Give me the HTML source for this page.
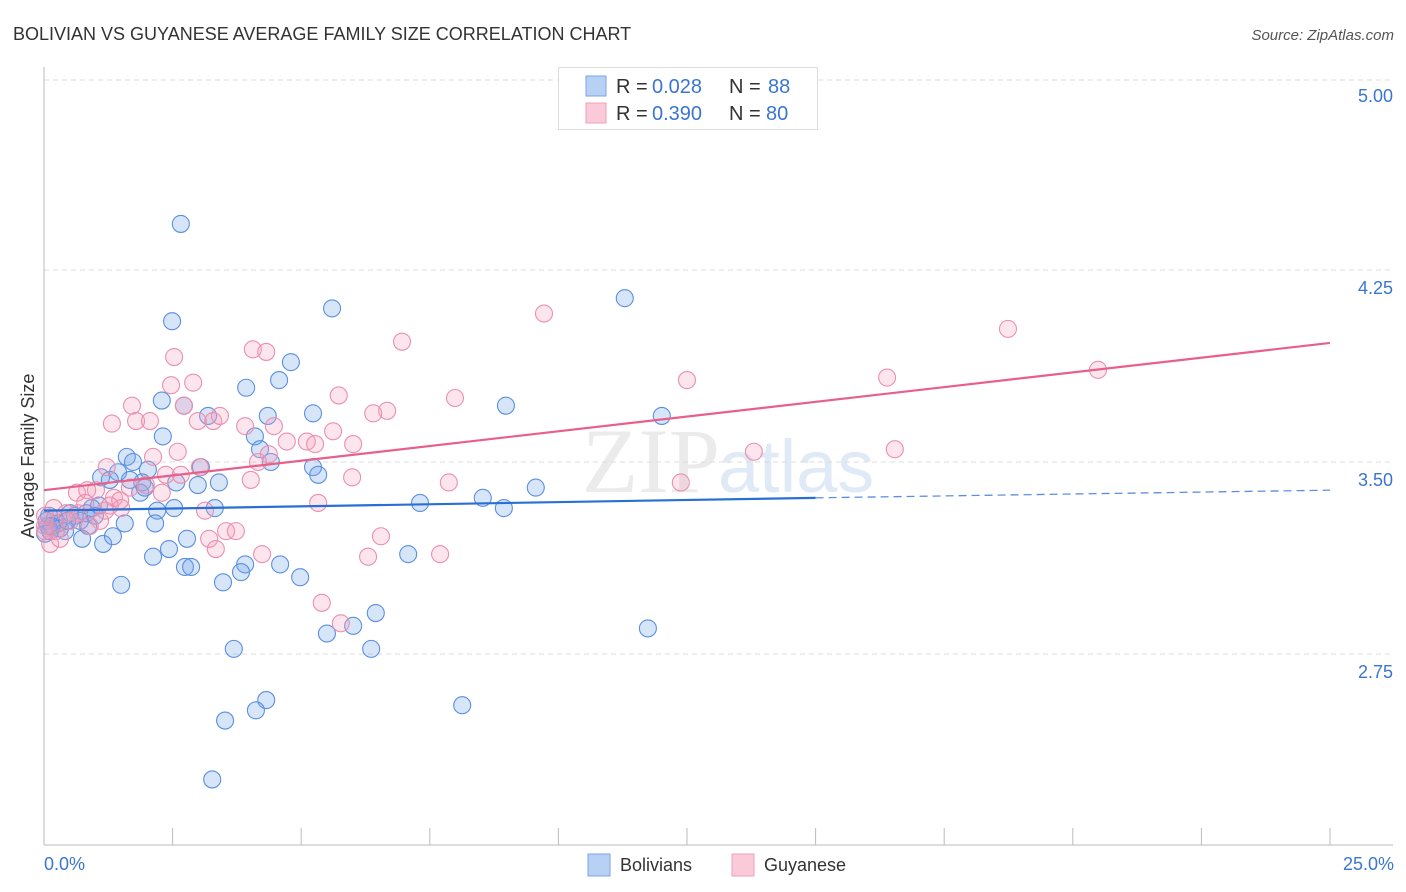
<!DOCTYPE html>
<html><head><meta charset="utf-8"><style>
body{margin:0;background:#fff;font-family:"Liberation Sans",sans-serif;}
svg{display:block}
</style></head><body>
<svg id="chart" width="1406" height="892" viewBox="0 0 1406 892">
<text x="13" y="40" font-size="18" fill="#333">BOLIVIAN VS GUYANESE AVERAGE FAMILY SIZE CORRELATION CHART</text>
<text x="1394" y="40" font-size="15" fill="#555" font-style="italic" text-anchor="end">Source: ZipAtlas.com</text>
<text x="720" y="492" font-size="92" fill="#ebebeb" font-family="Liberation Serif,serif" text-anchor="end">ZIP</text>
<text x="718" y="492" font-size="74" fill="#e0e9f6" text-anchor="start">atlas</text>
<g id="grid"></g>
<g id="axes"></g>
<g id="pts"></g>
<g id="trend"></g>
<text x="34" y="456" font-size="18" fill="#333" text-anchor="middle" transform="rotate(-90 34 456)">Average Family Size</text>
<text x="44" y="870" font-size="18" fill="#3a76d0">0.0%</text>
<text x="1394" y="870" font-size="18" fill="#3a76d0" text-anchor="end">25.0%</text>
<g>
<rect x="558.5" y="67.5" width="259" height="62" fill="#fff" stroke="#ddd"/>
<rect x="586" y="76" width="20" height="20" fill="#b8d0f4" stroke="#7aa4e4"/>
<rect x="586" y="103" width="20" height="20" fill="#fbcad8" stroke="#eea0b8"/>
<text y="93" font-size="20"><tspan x="616" fill="#333">R = </tspan><tspan x="652" fill="#3a76d0">0.028</tspan><tspan x="729" fill="#333">N = </tspan><tspan x="768" fill="#3a76d0">88</tspan></text>
<text y="120" font-size="20"><tspan x="616" fill="#333">R = </tspan><tspan x="652" fill="#3a76d0">0.390</tspan><tspan x="729" fill="#333">N = </tspan><tspan x="766" fill="#3a76d0">80</tspan></text>
</g>
<g>
<rect x="588" y="854" width="22" height="22" fill="#b8d0f4" stroke="#7aa4e4"/>
<text x="620" y="871" font-size="18" fill="#333">Bolivians</text>
<rect x="732" y="854" width="22" height="22" fill="#fbcad8" stroke="#eea0b8"/>
<text x="764" y="871" font-size="18" fill="#333">Guyanese</text>
</g>
</svg>
<script>
const yTicks=[5.00,4.25,3.50,2.75];
const yTickLabels=["5.00","4.25","3.50","2.75"];
const xTicks=[0,2.5,5,7.5,10,12.5,15,17.5,20,22.5,25];
const bolX=[2.66,2.49,11.29,5.60,4.80,4.57,3.93,2.29,2.72,3.19,4.35,5.23,8.98,12.01,2.31,4.10,4.20,3.05,5.23,5.33,4.41,1.61,1.73,1.44,2.02,1.11,1.28,1.91,1.87,2.57,2.99,3.40,9.56,8.53,7.31,8.94,3.32,2.53,2.20,0.93,0.82,1.07,0.51,0.21,0.08,0.31,0.12,0.86,1.57,2.16,0.74,1.15,1.34,2.78,2.43,2.12,7.08,4.59,3.91,2.74,2.86,3.83,4.98,3.48,1.50,6.45,5.50,6.01,11.74,3.69,6.36,4.32,4.12,3.52,8.13,3.27,0.05,0.10,0.27,0.60,0.41,0.99,0.70,1.67,1.96,0.02,0.15,0.45];
const bolY=[4.43,4.05,4.14,4.10,3.89,3.82,3.79,3.74,3.72,3.68,3.68,3.69,3.72,3.68,3.60,3.60,3.55,3.48,3.48,3.45,3.50,3.52,3.50,3.46,3.47,3.44,3.43,3.42,3.38,3.42,3.41,3.42,3.40,3.36,3.34,3.32,3.32,3.32,3.31,3.32,3.30,3.33,3.30,3.28,3.25,3.24,3.23,3.25,3.26,3.26,3.20,3.18,3.21,3.20,3.16,3.13,3.14,3.10,3.10,3.09,3.09,3.07,3.05,3.03,3.02,2.91,2.83,2.86,2.85,2.77,2.77,2.57,2.53,2.49,2.55,2.26,3.27,3.29,3.26,3.29,3.23,3.29,3.27,3.43,3.40,3.22,3.25,3.27];
const guyX=[9.72,18.74,6.96,4.06,4.32,2.53,2.90,2.47,20.49,16.39,12.50,5.73,7.99,6.67,6.40,2.72,1.71,1.32,1.79,2.06,2.99,3.29,3.42,3.91,4.47,5.11,4.72,5.27,5.62,6.01,16.54,13.80,4.37,4.16,3.03,2.12,2.60,1.22,2.37,2.66,5.99,7.87,12.38,4.02,1.67,1.01,0.64,0.84,1.98,2.29,5.33,1.36,1.50,3.13,3.54,3.21,3.73,3.34,4.24,6.55,7.70,6.30,5.40,5.77,0.19,0.43,0.66,0.23,0.51,0.12,1.09,0.80,1.28,0.31,0.02,0.02,0.02,0.89,1.48,1.19];
const guyY=[4.08,4.02,3.97,3.94,3.93,3.91,3.81,3.80,3.86,3.83,3.82,3.76,3.75,3.70,3.69,3.72,3.72,3.65,3.66,3.66,3.66,3.66,3.68,3.64,3.64,3.58,3.58,3.57,3.62,3.57,3.55,3.54,3.53,3.50,3.48,3.52,3.54,3.48,3.45,3.45,3.44,3.42,3.42,3.43,3.40,3.39,3.38,3.39,3.41,3.38,3.34,3.36,3.32,3.31,3.23,3.20,3.23,3.16,3.14,3.21,3.14,3.13,2.95,2.87,3.32,3.30,3.30,3.23,3.27,3.18,3.27,3.34,3.33,3.20,3.29,3.25,3.23,3.25,3.35,3.31];
const bolTrendX=[0,15,25];
const bolTrendY=[3.31,3.36,3.39];
const guyTrendX=[0,25];
const guyTrendY=[3.39,3.965];

const NS="http://www.w3.org/2000/svg";
function xs(p){return 44+p*51.44;}
function ys(v){return 462-(v-3.5)*256;}
function mk(tag,attrs,parent){const e=document.createElementNS(NS,tag);for(const k in attrs)e.setAttribute(k,attrs[k]);parent.appendChild(e);return e;}
const grid=document.getElementById('grid'),axes=document.getElementById('axes'),pts=document.getElementById('pts'),trend=document.getElementById('trend');
yTicks.forEach((t,i)=>{
  const l=mk('line',{x1:44,x2:1393,y1:ys(t)+(i===0?2:0),y2:ys(t)+(i===0?2:0),stroke:'#ddd','stroke-dasharray':'5,4'},grid);
  
  
  const tx=mk('text',{x:1393,y:ys(t)+24,'font-size':18,fill:'#3a76d0','text-anchor':'end'},axes);
  tx.textContent=yTickLabels[i];
  
  
});
const ya=mk('line',{x1:44,x2:44,y1:67,y2:845,stroke:'#bbb'},axes);


const xa=mk('line',{x1:44,x2:1393,y1:845,y2:845,stroke:'#bbb'},axes);


xTicks.forEach(t=>{
  const l=mk('line',{x1:xs(t),x2:xs(t),y1:828,y2:845,stroke:'#bbb'},axes);
  
  
});
bolX.forEach((x,i)=>{
  const c=mk('circle',{cx:xs(x),cy:ys(bolY[i]),r:8.5,fill:'rgba(110,160,235,0.28)',stroke:'#5b8fe0','stroke-width':1.1},pts);
  
  
});
guyX.forEach((x,i)=>{
  const c=mk('circle',{cx:xs(x),cy:ys(guyY[i]),r:8.5,fill:'rgba(245,160,190,0.28)',stroke:'#eb8fae','stroke-width':1.1},pts);
  
  
});
const b1=mk('line',{x1:xs(bolTrendX[0]),y1:ys(bolTrendY[0]),x2:xs(bolTrendX[1]),y2:ys(bolTrendY[1]),stroke:'#2a6fd6','stroke-width':2.2},trend);


const b2=mk('line',{x1:xs(bolTrendX[1]),y1:ys(bolTrendY[1]),x2:xs(bolTrendX[2]),y2:ys(bolTrendY[2]),stroke:'#5b8fe0','stroke-width':1.3,'stroke-dasharray':'8,5'},trend);


const g1=mk('line',{x1:xs(guyTrendX[0]),y1:ys(guyTrendY[0]),x2:xs(guyTrendX[1]),y2:ys(guyTrendY[1]),stroke:'#e8608a','stroke-width':2.2},trend);


</script>
</body></html>
